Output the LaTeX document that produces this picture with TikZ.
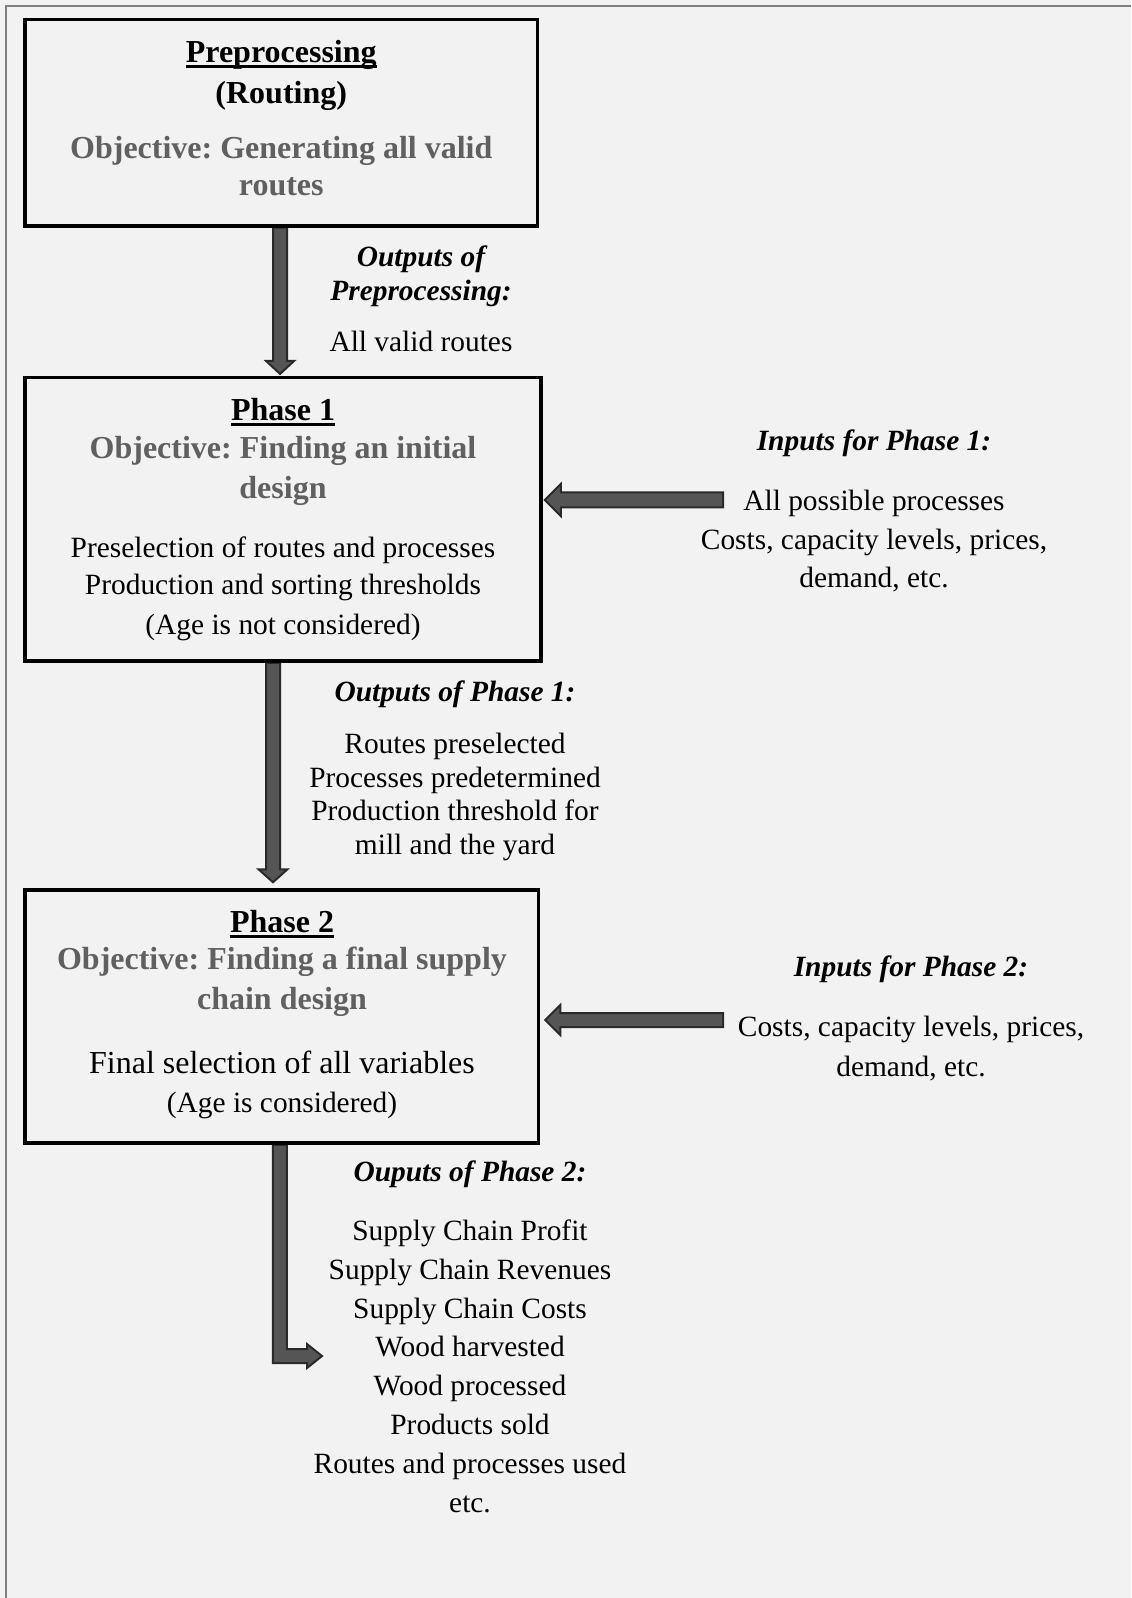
\documentclass[tikz,border=0pt]{standalone}
\usepackage{fontspec}
\setmainfont{Liberation Serif}
\usetikzlibrary{calc}
\definecolor{bgcol}{HTML}{F2F2F2}
\definecolor{framecol}{HTML}{808080}
\definecolor{objcol}{HTML}{606060}
\definecolor{arrfill}{HTML}{555555}
\definecolor{arrline}{HTML}{2A2A2A}
\newcommand{\myul}[1]{\setbox0\hbox{#1}\rlap{\rule[-2.6pt]{\wd0}{1.5pt}}\box0}
\pgfdeclarelayer{bglayer}
\pgfsetlayers{bglayer,main}
\frenchspacing
\begin{document}
\begin{tikzpicture}[x=0.5pt,y=-0.5pt,
  box/.style={draw=black, line width=1.75pt, rectangle, inner sep=0pt},
  tx/.style={anchor=base, inner sep=0pt, yshift=-0.8pt, font=\fontsize{14.7}{17}\selectfont},
  big/.style={tx, font=\fontsize{16}{19}\selectfont},
  hd/.style={tx, font=\fontsize{16}{19}\selectfont\bfseries},
  obj/.style={hd, text=objcol},
  inh/.style={tx, font=\fontsize{14.7}{17}\selectfont\bfseries\itshape},
  blockarrow/.style={fill=arrfill, draw=arrline, line width=1pt, line join=miter}]

\useasboundingbox (0,0) rectangle (1131,1598);

% boxes
\node[box, minimum width=256.25pt, minimum height=103.25pt] (box1) at (281.25,122.75) {};
\node[box, minimum width=258pt, minimum height=141.65pt] (box2) at (283,519.35) {};
\node[box, minimum width=256.75pt, minimum height=126.5pt] (box3) at (281.75,1016.5) {};

% box 1 texts
\node[hd] (p0a) at (281.25,61) {\myul{Preprocessing}};
\node[hd] (p0b) at (281.25,101.7) {(Routing)};
\node[obj] (p0c) at (281.25,156.7) {Objective: Generating all valid};
\node[obj] (p0d) at (281.25,194.3) {routes};

% outputs of preprocessing
\node[inh] (o0a) at (421,265) {Outputs of};
\node[inh] (o0b) at (421,299.3) {Preprocessing:};
\node[tx] (o0c) at (421,350) {All valid routes};

% box 2 texts
\node[hd] (p1a) at (283,419.3) {\myul{Phase 1}};
\node[obj] (p1b) at (283,456.7) {Objective: Finding an initial};
\node[obj] (p1c) at (283,496.7) {design};
\node[tx] (p1d) at (283,555.7) {Preselection of routes and processes};
\node[tx] (p1e) at (283,593.3) {Production and sorting thresholds};
\node[tx] (p1f) at (283,632.7) {(Age is not considered)};

% inputs phase 1
\node[inh] (i1a) at (874,449.3) {Inputs for Phase 1:};
\node[tx] (i1b) at (874,509.3) {All possible processes};
\node[tx] (i1c) at (874,548.3) {Costs, capacity levels, prices,};
\node[tx] (i1d) at (874,585.7) {demand, etc.};

% outputs phase 1
\node[inh] (o1a) at (455,700) {Outputs of Phase 1:};
\node[tx] (o1b) at (455,751.7) {Routes preselected};
\node[tx] (o1c) at (455,785.7) {Processes predetermined};
\node[tx] (o1d) at (455,819) {Production threshold for};
\node[tx] (o1e) at (455,852.7) {mill and the yard};

% box 3 texts
\node[hd] (p2a) at (282,930.7) {\myul{Phase 2}};
\node[obj] (p2b) at (282,968.3) {Objective: Finding a final supply};
\node[obj] (p2c) at (282,1008.3) {chain design};
\node[big] (p2d) at (282,1071.7) {Final selection of all variables};
\node[tx] (p2e) at (282,1110.7) {(Age is considered)};

% inputs phase 2
\node[inh] (i2a) at (911,975) {Inputs for Phase 2:};
\node[tx] (i2b) at (911,1035) {Costs, capacity levels, prices,};
\node[tx] (i2c) at (911,1075) {demand, etc.};

% outputs phase 2
\node[inh] (o2a) at (470,1180) {Ouputs of Phase 2:};
\node[tx] (o2b) at (470,1239.3) {Supply Chain Profit};
\node[tx] (o2c) at (470,1277.5) {Supply Chain Revenues};
\node[tx] (o2d) at (470,1316.5) {Supply Chain Costs};
\node[tx] (o2e) at (470,1355) {Wood harvested};
\node[tx] (o2f) at (470,1394.3) {Wood processed};
\node[tx] (o2g) at (470,1433.3) {Products sold};
\node[tx] (o2h) at (470,1472.3) {Routes and processes used};
\node[tx] (o2i) at (470,1510.7) {etc.};

% connector coordinates
\coordinate (a1s) at ([xshift=-0.6pt]box1.south);
\coordinate (b2top) at ([yshift=1pt]box2.north);
\coordinate (a1e) at (b2top -| a1s);
\coordinate (a2s) at ([xshift=-5pt]box2.south);
\coordinate (b3top) at ([yshift=3pt]box3.north);
\coordinate (a2e) at (b3top -| a2s);
\coordinate (a3s) at ([xshift=-1pt]box3.south);
\coordinate (a3e) at (322,1356);
\coordinate (a3c) at (a3s |- a3e);
\coordinate (i1s) at (723,500);
\coordinate (b2r) at ([xshift=1pt]box2.east);
\coordinate (i1e) at (b2r |- i1s);
\coordinate (i2s) at (723,1020);
\coordinate (b3r) at ([xshift=2.5pt]box3.east);
\coordinate (i2e) at (b3r |- i2s);

\begin{pgfonlayer}{bglayer}
\fill[bgcol] (0,0) rectangle (1131,1598);
\draw[framecol, line width=1.25pt] (6,1598) -- (6,6) -- (1131,6);
% arrow 1
\filldraw[blockarrow] ($(a1s)+(-7,0)$) -- ($(a1s)+(7,0)$) -- ($(a1e)+(7,-13)$) -- ($(a1e)+(14,-13)$) -- (a1e) -- ($(a1e)+(-14,-13)$) -- ($(a1e)+(-7,-13)$) -- cycle;
% arrow 2
\filldraw[blockarrow] ($(a2s)+(-7,0)$) -- ($(a2s)+(7,0)$) -- ($(a2e)+(7,-13)$) -- ($(a2e)+(14.5,-13)$) -- (a2e) -- ($(a2e)+(-14.5,-13)$) -- ($(a2e)+(-7,-13)$) -- cycle;
% arrow 3 (bent)
\filldraw[blockarrow] ($(a3s)+(-7,0)$) -- ($(a3s)+(7,0)$) -- ($(a3c)+(7,-7)$) -- ($(a3e)+(-15,-7)$) -- ($(a3e)+(-15,-12)$) -- (a3e) -- ($(a3e)+(-15,12)$) -- ($(a3e)+(-15,7)$) -- ($(a3c)+(-7,7)$) -- cycle;
% input arrow 1
\filldraw[blockarrow] ($(i1s)+(0,-7.5)$) -- ($(i1e)+(16,-7.5)$) -- ($(i1e)+(16,-16)$) -- (i1e) -- ($(i1e)+(16,16)$) -- ($(i1e)+(16,7.5)$) -- ($(i1s)+(0,7.5)$) -- cycle;
% input arrow 2
\filldraw[blockarrow] ($(i2s)+(0,-7)$) -- ($(i2e)+(15,-7)$) -- ($(i2e)+(15,-15)$) -- (i2e) -- ($(i2e)+(15,15)$) -- ($(i2e)+(15,7)$) -- ($(i2s)+(0,7)$) -- cycle;
\end{pgfonlayer}
\end{tikzpicture}
\end{document}
